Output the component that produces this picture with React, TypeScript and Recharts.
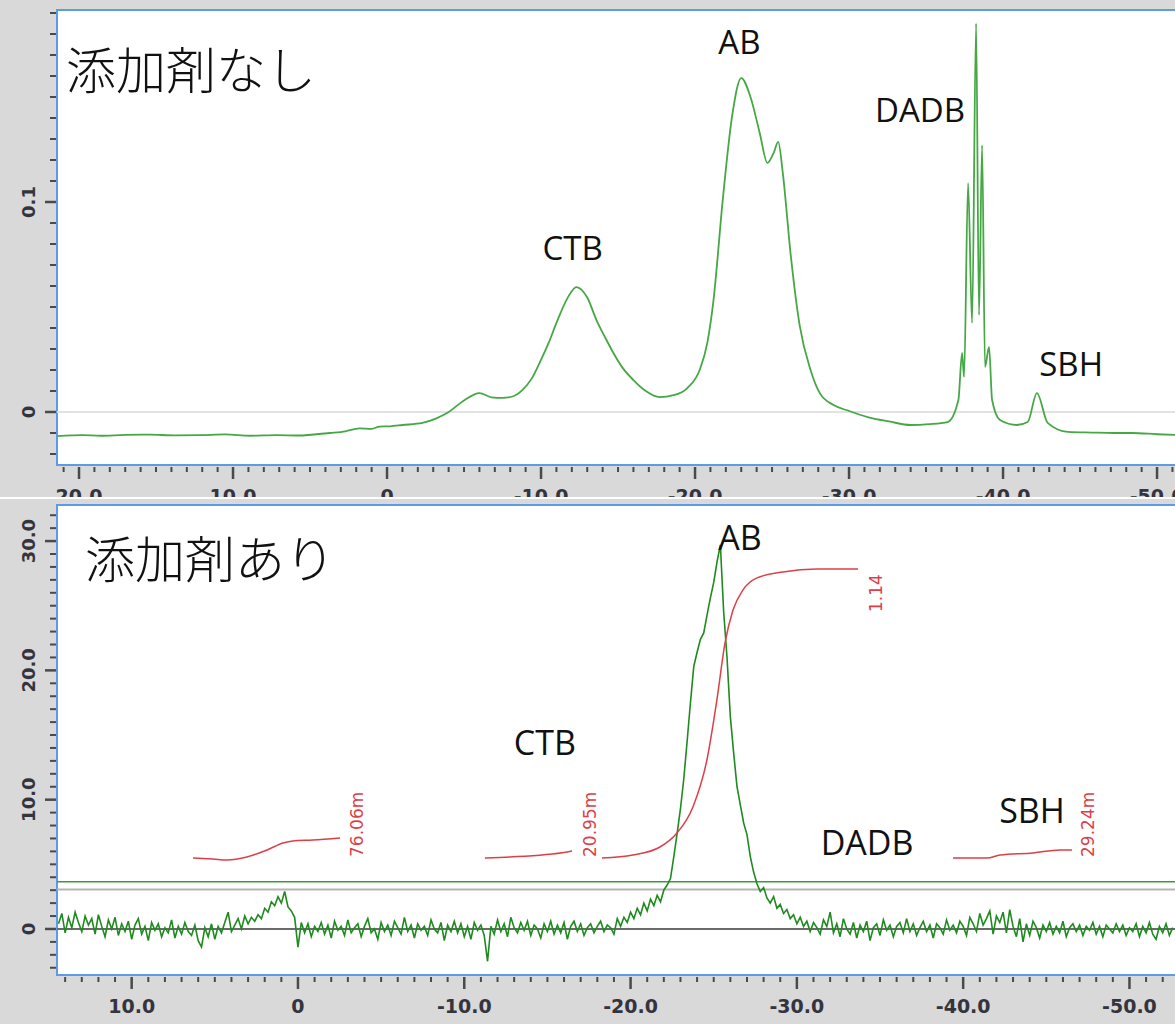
import React from 'react';
import { LineChart, Line, XAxis, YAxis, CartesianGrid, ReferenceLine, ReferenceArea, ReferenceDot } from 'recharts';

// ---------- top spectrum (添加剤なし) ----------
const topPpm = [21.4, 19.8, 18.6, 17.0, 15.4, 13.8, 12.1, 10.5, 8.9, 7.2, 5.6, 4.6, 3.7, 2.7, 1.8, 1.0, 0.5, -0.2, -1.0, -2.3, -3.2, -3.9, -5.0, -6.0, -6.8, -7.5, -8.2, -8.8, -9.4, -9.9, -10.5, -11.0, -11.7, -12.3, -13.0, -13.6, -14.2, -14.7, -15.3, -16.0, -16.8, -17.7, -18.6, -19.5, -20.3, -20.8, -21.2, -21.8, -22.4, -23.0, -23.6, -24.2, -24.7, -25.1, -25.4, -25.7, -26.2, -26.8, -27.5, -28.1, -29.0, -30.0, -31.2, -32.6, -34.0, -35.2, -36.4, -37.1, -37.34, -37.47, -37.73, -37.99, -38.25, -38.44, -38.64, -38.83, -39.09, -39.29, -39.8, -40.9, -41.6, -42.2, -42.9, -44.2, -45.8, -47.2, -48.4, -50.0, -52.1];
const topIntensity = [-0.0115, -0.0110, -0.0113, -0.0109, -0.0108, -0.0111, -0.0110, -0.0107, -0.0113, -0.0110, -0.0112, -0.0106, -0.0100, -0.0092, -0.0078, -0.0080, -0.0070, -0.0068, -0.0062, -0.0052, -0.0030, -0.0005, 0.0055, 0.0090, 0.0070, 0.0067, 0.0075, 0.0105, 0.0160, 0.0233, 0.0330, 0.0424, 0.0540, 0.0595, 0.0545, 0.0438, 0.0350, 0.0281, 0.0210, 0.0152, 0.0100, 0.0071, 0.0080, 0.0114, 0.0200, 0.0330, 0.0533, 0.1010, 0.1405, 0.1590, 0.1500, 0.1329, 0.1186, 0.1233, 0.1286, 0.1138, 0.0757, 0.0410, 0.0200, 0.0090, 0.0033, 0.0005, -0.0024, -0.0045, -0.0062, -0.0058, -0.0048, 0.0057, 0.0281, 0.0167, 0.1090, 0.0424, 0.1850, 0.0462, 0.1270, 0.0214, 0.0310, 0.0057, -0.0038, -0.0062, -0.0048, 0.0090, -0.0052, -0.0095, -0.0098, -0.0100, -0.0100, -0.0106, -0.0112];

// ---------- bottom spectrum (添加剤あり) ----------
const bottomPpm = [
  14.4, 14.2, 14.0, 13.8, 13.6, 13.4, 13.2, 13.0, 12.8, 12.6,
  12.4, 12.2, 12.0, 11.8, 11.6, 11.4, 11.2, 11.0, 10.8, 10.6,
  10.4, 10.2, 10.0, 9.8, 9.6, 9.4, 9.2, 9.0, 8.8, 8.6,
  8.4, 8.2, 8.0, 7.8, 7.6, 7.4, 7.2, 7.0, 6.8, 6.6,
  6.4, 6.2, 6.0, 5.8, 5.6, 5.4, 5.2, 5.0, 4.8, 4.6,
  4.4, 4.2, 4.0, 3.8, 3.6, 3.4, 3.2, 3.0, 2.8, 2.6,
  2.4, 2.2, 2.0, 1.8, 1.6, 1.4, 1.2, 1.0, 0.8, 0.6,
  0.4, 0.2, 0.0, -0.2, -0.4, -0.6, -0.8, -1.0, -1.2, -1.4,
  -1.6, -1.8, -2.0, -2.2, -2.4, -2.6, -2.8, -3.0, -3.2, -3.4,
  -3.6, -3.8, -4.0, -4.2, -4.4, -4.6, -4.8, -5.0, -5.2, -5.4,
  -5.6, -5.8, -6.0, -6.2, -6.4, -6.6, -6.8, -7.0, -7.2, -7.4,
  -7.6, -7.8, -8.0, -8.2, -8.4, -8.6, -8.8, -9.0, -9.2, -9.4,
  -9.6, -9.8, -10.0, -10.2, -10.4, -10.6, -10.8, -11.0, -11.2, -11.4,
  -11.6, -11.8, -12.0, -12.2, -12.4, -12.6, -12.8, -13.0, -13.2, -13.4,
  -13.6, -13.8, -14.0, -14.2, -14.4, -14.6, -14.8, -15.0, -15.2, -15.4,
  -15.6, -15.8, -16.0, -16.2, -16.4, -16.6, -16.8, -17.0, -17.2, -17.4,
  -17.6, -17.8, -18.0, -18.2, -18.4, -18.6, -18.8, -19.0, -19.2, -19.4,
  -19.6, -19.8, -20.0, -20.2, -20.4, -20.6, -20.8, -21.0, -21.2, -21.4,
  -21.6, -21.8, -22.0, -22.2, -22.4, -22.6, -22.8, -23.0, -23.2, -23.4,
  -23.6, -23.8, -24.0, -24.2, -24.4, -24.6, -24.8, -25.0, -25.2, -25.4,
  -25.6, -25.8, -26.0, -26.2, -26.4, -26.6, -26.8, -27.0, -27.2, -27.4,
  -27.6, -27.8, -28.0, -28.2, -28.4, -28.6, -28.8, -29.0, -29.2, -29.4,
  -29.6, -29.8, -30.0, -30.2, -30.4, -30.6, -30.8, -31.0, -31.2, -31.4,
  -31.6, -31.8, -32.0, -32.2, -32.4, -32.6, -32.8, -33.0, -33.2, -33.4,
  -33.6, -33.8, -34.0, -34.2, -34.4, -34.6, -34.8, -35.0, -35.2, -35.4,
  -35.6, -35.8, -36.0, -36.2, -36.4, -36.6, -36.8, -37.0, -37.2, -37.4,
  -37.6, -37.8, -38.0, -38.2, -38.4, -38.6, -38.8, -39.0, -39.2, -39.4,
  -39.6, -39.8, -40.0, -40.2, -40.4, -40.6, -40.8, -41.0, -41.2, -41.4,
  -41.6, -41.8, -42.0, -42.2, -42.4, -42.6, -42.8, -43.0, -43.2, -43.4,
  -43.6, -43.8, -44.0, -44.2, -44.4, -44.6, -44.8, -45.0, -45.2, -45.4,
  -45.6, -45.8, -46.0, -46.2, -46.4, -46.6, -46.8, -47.0, -47.2, -47.4,
  -47.6, -47.8, -48.0, -48.2, -48.4, -48.6, -48.8, -49.0, -49.2, -49.4,
  -49.6, -49.8, -50.0, -50.2, -50.4, -50.6, -50.8, -51.0, -51.2, -51.4,
  -51.6, -51.8, -52.0, -52.2, -52.4, -52.6,
];
const bottomIntensity = [
  0.4, 1.2, -0.3, 0.9, 0.1, 1.3, 0.5, -0.2, 1.0, 0.3,
  0.8, -0.4, 1.1, 0.2, -0.6, 0.7, 0.0, 0.9, -0.5, 0.4,
  -0.2, 0.6, -0.8, 0.3, 0.8, -0.4, 0.2, -0.9, 0.5, -0.1,
  0.4, -0.6, 0.1, -0.3, 0.7, -0.7, 0.2, -0.4, 0.5, -0.2,
  -0.5, 0.3, -0.9, -1.4, 0.1, -0.6, 0.4, -0.8, 0.2, -0.3,
  0.5, 1.3, -0.2, 0.3, 0.8, 0.0, 1.0, 0.4, 0.9, 0.6,
  1.1, 0.8, 1.6, 1.3, 2.1, 1.8, 2.5, 2.0, 2.9, 1.7,
  1.4, 0.9, -1.4, 0.5, -0.3, 0.4, -0.6, 0.2, -0.2, 0.5,
  -0.4, 0.3, -0.7, 0.6, -0.1, 0.2, -0.5, 0.7, -0.3, 0.1,
  0.4, -0.6, 0.2, 0.8, -0.3, 0.0, -0.8, 0.5, -0.2, 0.3,
  -0.5, 0.6, 0.1, -0.4, 0.9, -0.2, 0.3, -0.7, 0.4, -0.1,
  0.2, -0.5, 0.7, 0.0, -0.3, 0.5, -0.9, 0.3, -0.2, 0.6,
  -0.3, 0.4, -0.6, 0.2, -0.8, 0.5, -0.1, 0.3, -0.5, -2.5,
  0.2, -0.4, 0.7, -0.2, 0.4, -0.6, 0.9, 0.1, -0.3, 0.5,
  -0.1, 0.6, -0.5, 0.3, 0.0, -0.7, 0.4, -0.2, 0.6, -0.4,
  0.3, -0.3, 0.5, -0.8, 0.2, 0.6, -0.2, 0.4, -0.5, 0.1,
  0.4, -0.3, 0.2, 0.6, -0.2, 0.3, 0.1, -0.4, 0.8, 0.2,
  0.9, 0.5, 1.3, 0.8, 1.6, 1.1, 2.0, 1.4, 2.3, 1.8,
  2.6, 2.1, 3.0, 3.4, 3.9, 5.6, 7.4, 9.3, 11.6, 14.5,
  17.5, 20.3, 21.4, 22.4, 22.9, 24.3, 25.6, 26.8, 28.4, 29.7,
  24.5, 21.0, 16.4, 13.6, 11.0, 9.6, 8.2, 7.3, 5.6, 4.4,
  3.5, 2.9, 3.2, 2.4, 2.0, 2.5, 1.6, 1.9, 1.2, 1.5,
  0.8, 1.1, 0.4, 0.9, 0.2, 0.6, -0.2, 0.5, 0.1, -0.4,
  0.7, 0.2, 1.3, -0.3, 0.4, -0.6, 0.8, 0.0, -0.4, 0.5,
  -0.7, 0.3, -0.2, 0.6, -0.9, 0.1, 0.4, -0.5, 0.7, -0.1,
  0.3, -0.6, 0.2, 0.5, -0.3, 0.8, -0.2, 0.4, -0.5, 0.1,
  0.6, -0.2, 0.3, -0.7, 0.4, 0.1, -0.4, 0.7, -0.1, 0.3,
  -0.3, 0.6, 0.2, -0.5, 0.9, 0.4, -0.2, 1.2, 0.3, 0.8,
  1.4, -0.4, 1.0, 0.5, 1.3, -0.3, 1.5, 0.2, -0.6, 0.8,
  -1.0, 0.4, -0.5, 0.6, 0.1, -0.7, 0.3, -0.2, 0.5, -0.4,
  0.2, -0.3, 0.6, -0.6, 0.1, 0.4, -0.2, 0.3, -0.5, 0.2,
  -0.1, 0.5, -0.4, 0.2, -0.6, 0.3, 0.0, -0.3, 0.4, -0.2,
  0.3, -0.5, 0.1, -0.2, 0.4, -0.6, 0.2, -0.3, 0.5, -0.4,
  -0.8, 0.2, -0.3, 0.4, -0.5, 0.1,
];

// ---------- integral curves ----------
const integral1Ppm = [6.31, 5.11, 4.27, 3.07, 1.86, 0.9, 0.3, -0.9, -2.53];
const integral1Value = [5.49, 5.41, 5.34, 5.57, 6.11, 6.65, 6.81, 6.88, 7.04];
const integral2Ppm = [-11.24, -12.75, -16.18, -16.48];
const integral2Value = [5.49, 5.57, 5.96, 6.03];
const integral3Ppm = [-18.28, -20.14, -21.77, -22.79, -23.75, -24.59, -25.19, -25.68, -26.16, -26.76, -27.6, -29.16, -31.21, -33.68];
const integral3Value = [5.49, 5.72, 6.34, 7.42, 9.44, 13.07, 17.71, 22.12, 24.67, 26.22, 27.15, 27.61, 27.84, 27.84];
const integral4Ppm = [-39.39, -41.43, -42.22, -44.2, -45.82, -46.54];
const integral4Value = [5.49, 5.49, 5.72, 5.88, 6.11, 6.11];
const integralLabels = ['76.06m', '20.95m', '1.14', '29.24m'];
const integralLabelPpm = [-3.91, -17.92, -35.12, -47.87];
const integralLabelValue = [5.57, 5.57, 24.52, 5.57];

// ---------- annotations ----------
const topTitle = '添加剤なし';
const bottomTitle = '添加剤あり';
const topPeakNames = ['CTB', 'AB', 'DADB', 'SBH'];
const topPeakPpm = [-12.05, -22.88, -34.61, -44.42];
const topPeakValue = [0.0724, 0.1705, 0.1381, 0.0171];
const bottomPeakNames = ['AB', 'CTB', 'DADB', 'SBH'];
const bottomPeakPpm = [-26.58, -14.85, -34.22, -44.14];
const bottomPeakValue = [29.31, 13.46, 5.72, 8.2];

// ---------- axes ----------
const topXMajor = [20, 10, 0, -10, -20, -30, -40, -50];
const topYMajor = [0, 0.1];
const topYLabels = ['0', '0.1'];
const bottomXMajor = [10, 0, -10, -20, -30, -40, -50];
const bottomYMajor = [0, 10, 20, 30];
const bottomYLabels = ['0', '10.0', '20.0', '30.0'];

const TOP_X = [-52.14, 21.43];
const TOP_Y = [-0.02524, 0.19143];
const BOT_X = [-53.64, 14.49];
const BOT_Y = [-3.56, 32.79];

const range = (a: number, b: number, step: number) => {
  const out: number[] = [];
  for (let v = a; v <= b + 1e-9; v += step) out.push(Math.round(v * 1000) / 1000);
  return out;
};

const zip = (xs: number[], ys: number[]) => xs.map((ppm, i) => ({ ppm, v: ys[i] }));

const topData = zip(topPpm, topIntensity);
const bottomData = zip(bottomPpm, bottomIntensity);
const int1 = zip(integral1Ppm, integral1Value);
const int2 = zip(integral2Ppm, integral2Value);
const int3 = zip(integral3Ppm, integral3Value);
const int4 = zip(integral4Ppm, integral4Value);

const TICK_COLOR = '#4a4a4a';
const LABEL_COLOR = '#34343e';
const BORDER = '#5b9be8';
const RED = '#dc3f48';

const isMajor = (majors: number[], v: number) => majors.some((m) => Math.abs(m - v) < 1e-6);
const fmtX = (v: number) => (v === 0 ? '0' : v.toFixed(1));

const makeXTick = (majors: number[]) => (props: any) => {
  const { x, y, payload } = props;
  const v = payload.value;
  const major = isMajor(majors, v);
  return (
    <g>
      <line x1={x} x2={x} y1={y + 2} y2={y + (major ? 14 : 7)} stroke={TICK_COLOR} strokeWidth={major ? 2.5 : 2} />
      {major && (
        <text x={x} y={y + 38} textAnchor="middle" fill={LABEL_COLOR} fontFamily="DejaVu Sans" fontWeight="bold" fontSize={19}>
          {fmtX(v)}
        </text>
      )}
    </g>
  );
};

const makeYTick = (majors: number[], labels: string[]) => (props: any) => {
  const { x, y, payload } = props;
  const v = payload.value;
  const idx = majors.findIndex((m) => Math.abs(m - v) < 1e-6);
  const major = idx >= 0;
  return (
    <g>
      <line x1={x - 1} x2={x - (major ? 12 : 7)} y1={y} y2={y} stroke={TICK_COLOR} strokeWidth={major ? 2.5 : 2} />
      {major && (
        <text
          x={29}
          y={y}
          transform={`rotate(-90, 29, ${y})`}
          textAnchor="middle"
          dominantBaseline="central"
          fill={LABEL_COLOR}
          fontFamily="DejaVu Sans"
          fontWeight="bold"
          fontSize={18}
        >
          {labels[idx]}
        </text>
      )}
    </g>
  );
};

const textShape = (text: string, opts: any) => (props: any) => (
  <text x={props.cx} y={props.cy} {...opts}>
    {text}
  </text>
);

const rotatedShape = (text: string) => (props: any) => (
  <text
    x={props.cx}
    y={props.cy}
    transform={`rotate(-90, ${props.cx}, ${props.cy})`}
    textAnchor="start"
    fill={RED}
    fontFamily="DejaVu Sans"
    fontSize={17}
  >
    {text}
  </text>
);

const peakFont = { fontFamily: "'Open Sans', 'Noto Sans', sans-serif", fill: '#111', textAnchor: 'middle' };
const titleFont = { fontFamily: "'Noto Sans CJK JP', sans-serif", fontWeight: 300, fontSize: 50, fill: '#111', textAnchor: 'start' };

function TopPanel() {
  const xTicks = range(-52, 21, 1);
  const yTicks = range(-0.02, 0.19, 0.01);
  return (
    <div style={{ position: 'absolute', left: 0, top: 0, width: 1175, height: 497, overflow: 'hidden', background: '#d9d9d9' }}>
      <LineChart width={1200} height={520} margin={{ top: 10, right: 10, bottom: 15, left: 0 }}>
        <CartesianGrid horizontal={false} vertical={false} fill="#ffffff" />
        <XAxis
          dataKey="ppm"
          type="number"
          domain={TOP_X}
          allowDataOverflow
          reversed
          ticks={xTicks}
          interval={0}
          tickSize={0}
          tickMargin={0}
          axisLine={false}
          tickLine={false}
          height={40}
          tick={makeXTick(topXMajor)}
        />
        <YAxis
          type="number"
          domain={TOP_Y}
          allowDataOverflow
          ticks={yTicks}
          interval={0}
          tickSize={0}
          tickMargin={0}
          axisLine={false}
          tickLine={false}
          width={57}
          tick={makeYTick(topYMajor, topYLabels)}
        />
        <ReferenceLine y={0} stroke="#e2e2e2" strokeWidth={2} />
        <Line data={topData} dataKey="v" type="monotone" dot={false} activeDot={false} stroke="#45a845" strokeWidth={1.8} isAnimationActive={false} />
        <ReferenceArea x1={TOP_X[0]} x2={TOP_X[1]} y1={TOP_Y[0]} y2={TOP_Y[1]} fill="none" stroke={BORDER} strokeWidth={2} ifOverflow="visible" />
        <ReferenceDot x={20.84} y={0.1538} r={0} ifOverflow="visible" shape={textShape(topTitle, titleFont)} />
        {topPeakNames.map((n, i) => (
          <ReferenceDot key={n} x={topPeakPpm[i]} y={topPeakValue[i]} r={0} ifOverflow="visible" shape={textShape(n, { ...peakFont, fontSize: 33 })} />
        ))}
      </LineChart>
    </div>
  );
}

function BottomPanel() {
  const xTicks = range(-53, 14, 1);
  const yTicks = range(-3, 32, 1);
  return (
    <div style={{ position: 'absolute', left: 0, top: 499, width: 1175, height: 525, overflow: 'hidden', background: '#d9d9d9' }}>
      <LineChart width={1200} height={525} margin={{ top: 6, right: 10, bottom: 9, left: 0 }}>
        <CartesianGrid horizontal={false} vertical={false} fill="#ffffff" />
        <XAxis
          dataKey="ppm"
          type="number"
          domain={BOT_X}
          allowDataOverflow
          reversed
          ticks={xTicks}
          interval={0}
          tickSize={0}
          tickMargin={0}
          axisLine={false}
          tickLine={false}
          height={40}
          tick={makeXTick(bottomXMajor)}
        />
        <YAxis
          type="number"
          domain={BOT_Y}
          allowDataOverflow
          ticks={yTicks}
          interval={0}
          tickSize={0}
          tickMargin={0}
          axisLine={false}
          tickLine={false}
          width={57}
          tick={makeYTick(bottomYMajor, bottomYLabels)}
        />
        <ReferenceLine y={0} stroke="#6a6a6a" strokeWidth={2} />
        <ReferenceLine y={3.05} stroke="#b4b4b4" strokeWidth={2} />
        <ReferenceLine y={3.65} stroke="#3c9c3c" strokeWidth={1.6} />
        <Line data={bottomData} dataKey="v" type="linear" dot={false} activeDot={false} stroke="#1f8a1f" strokeWidth={1.6} isAnimationActive={false} />
        <Line data={int1} dataKey="v" type="monotone" dot={false} activeDot={false} stroke={RED} strokeWidth={1.5} isAnimationActive={false} />
        <Line data={int2} dataKey="v" type="monotone" dot={false} activeDot={false} stroke={RED} strokeWidth={1.5} isAnimationActive={false} />
        <Line data={int3} dataKey="v" type="monotone" dot={false} activeDot={false} stroke={RED} strokeWidth={1.5} isAnimationActive={false} />
        <Line data={int4} dataKey="v" type="monotone" dot={false} activeDot={false} stroke={RED} strokeWidth={1.5} isAnimationActive={false} />
        <ReferenceArea x1={BOT_X[0]} x2={BOT_X[1]} y1={BOT_Y[0]} y2={BOT_Y[1]} fill="none" stroke={BORDER} strokeWidth={2} ifOverflow="visible" />
        {integralLabels.map((t, i) => (
          <ReferenceDot key={t} x={integralLabelPpm[i]} y={integralLabelValue[i]} r={0} ifOverflow="visible" shape={rotatedShape(t)} />
        ))}
        <ReferenceDot x={12.81} y={27.15} r={0} ifOverflow="visible" shape={textShape(bottomTitle, titleFont)} />
        {bottomPeakNames.map((n, i) => (
          <ReferenceDot key={n} x={bottomPeakPpm[i]} y={bottomPeakValue[i]} r={0} ifOverflow="visible" shape={textShape(n, { ...peakFont, fontSize: 34 })} />
        ))}
      </LineChart>
    </div>
  );
}

export default function App() {
  return (
    <div style={{ position: 'absolute', left: 0, top: 0, width: 1175, height: 1024, background: '#ffffff', overflow: 'hidden' }}>
      <TopPanel />
      <BottomPanel />
    </div>
  );
}
